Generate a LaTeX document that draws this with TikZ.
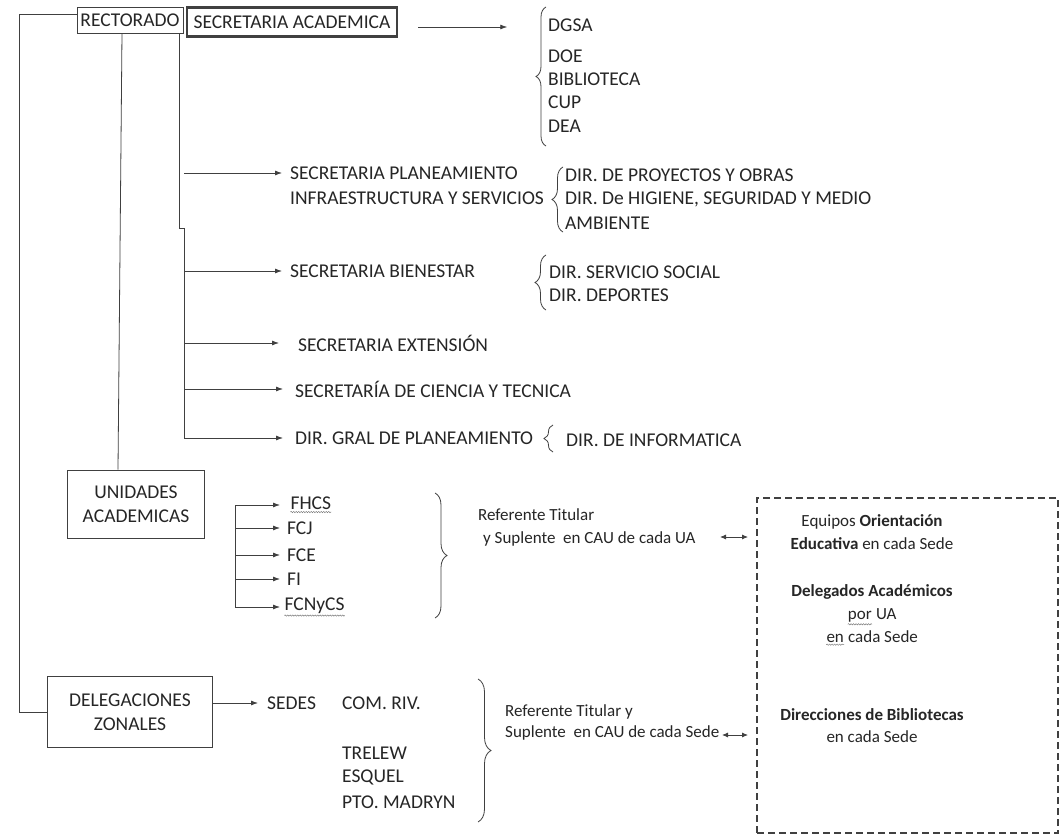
\documentclass[tikz,border=0pt]{standalone}
\usepackage{fontspec}
\setmainfont{Carlito}
\usetikzlibrary{arrows.meta,decorations.pathreplacing,decorations.pathmorphing}
\tikzset{
	linea/.style={line width=0.8pt, color=black!75},
	flecha/.style={linea, -{Latex[length=7pt,width=5pt]}, shorten >=8pt},
	dflecha/.style={linea, {Latex[length=6pt,width=5pt]}-{Latex[length=6pt,width=5pt]}},
	caja/.style={draw=black!75, line width=0.8pt, inner sep=0pt, align=center, text=black!85},
	texto/.style={inner sep=0pt, anchor=west, text=black!85},
	chica/.style={font=\fontsize{17}{23}\selectfont},
	llave/.style={decorate, decoration={brace, amplitude=#1}, line width=0.8pt, color=black!75},
	llave/.default=10pt,
	trazos/.style={draw, line width=1.4pt, color=black!75, dash pattern=on 7pt off 4pt},
	onda/.style={decorate, decoration={snake, amplitude=0.7pt, segment length=2.5pt}, line width=0.4pt, color=black!55},
}
\newcommand{\ondas}[1]{\tikz[baseline=(o.base)]{\node[inner sep=0pt] (o) {#1}; \draw[onda] ([yshift=-2pt]o.south west) -- ([yshift=-2pt]o.south east);}}

\begin{document}
\begin{tikzpicture}[x=1pt, y=-1pt, font=\fontsize{19.5}{24}\selectfont]
		%%%%% START %%%%%
		\useasboundingbox[fill=white] (0,0) rectangle (1061,837);
		
		\node[caja, minimum width=106pt, minimum height=26pt] (rect) at (130,20) {RECTORADO};
		\node[caja, line width=2.5pt, minimum width=210pt, minimum height=29pt] (secac) at (292,22) {SECRETARIA ACADEMICA};
		\node[caja, minimum width=137pt, minimum height=68pt] (unid) at (136,504) {UNIDADES\\ACADEMICAS};
		\node[caja, minimum width=165pt, minimum height=71pt] (deleg) at (130,712) {DELEGACIONES\\ZONALES};
		
		%%%%% SECRETARIA ACADEMICA %%%%%
		\draw[flecha, shorten >=0pt] ([xshift=20pt, yshift=-5pt]secac.east) -- ++(89,0);
		\draw[llave] (546,146) -- (546,7);
		\node[texto] (dgsa) at (548,25) {DGSA};
		\node[texto] (doe) at (548,56) {DOE};
		\node[texto] (biblio) at (548,79) {BIBLIOTECA};
		\node[texto] (cup) at (548,102) {CUP};
		\node[texto] (dea) at (548,126) {DEA};
		
		%%%%% SECRETARIAS %%%%%
		\coordinate (codo) at (184,228);
		\node[texto] (planeam) at (290,173) {SECRETARIA PLANEAMIENTO};
		\node[texto] (infra) at (290,198) {INFRAESTRUCTURA Y SERVICIOS};
		\draw[llave=11pt] (563,232) -- (563,167);
		\node[texto] (proyectos) at (565,175) {DIR. DE PROYECTOS Y OBRAS};
		\node[texto] (higiene) at (565,199) {DIR. De HIGIENE, SEGURIDAD Y MEDIO};
		\node[texto] (ambiente) at (565,223) {AMBIENTE};
		
		\node[texto] (bienestar) at (290,271) {SECRETARIA BIENESTAR};
		\draw[llave=11pt] (546,310) -- (546,255);
		\node[texto] (social) at (549,272) {DIR. SERVICIO SOCIAL};
		\node[texto] (deportes) at (549,295) {DIR. DEPORTES};
		
		\node[texto] (extension) at (298,343) {SECRETARIA EXTENSIÓN};
		\node[texto] (ciencia) at (295,389) {SECRETARÍA DE CIENCIA Y TECNICA};
		\node[texto] (dirgral) at (295,438) {DIR. GRAL DE PLANEAMIENTO};
		\draw[llave=9pt] (553,452) -- (553,425);
		\node[texto] (informatica) at (566,440) {DIR. DE INFORMATICA};
		
		\draw[linea] ([xshift=-4pt]rect.south east) |- (codo) -- (dirgral.west -| codo);
		\draw[flecha] (planeam.west -| codo) -- (planeam.west);
		\draw[flecha] (bienestar.west -| codo) -- (bienestar.west);
		\draw[flecha, shorten >=19pt] (extension.west -| codo) -- (extension.west);
		\draw[flecha, shorten >=12pt] (ciencia.west -| codo) -- (ciencia.west);
		\draw[flecha, shorten >=12pt] (dirgral.west -| codo) -- (dirgral.west);
		
		%%%%% UNIDADES ACADEMICAS %%%%%
		\draw[linea] ([xshift=-8pt]rect.south) -- ([xshift=-18pt]unid.north);
		
		\coordinate (raiz) at (235,0);
		\node[texto] (fhcs) at (290,505) {\ondas{FHCS}};
		\node[texto] (fcj) at (287,528) {FCJ};
		\node[texto] (fce) at (287,555) {FCE};
		\node[texto] (fi) at (287,579) {FI};
		\node[texto] (fcnycs) at (284,607) {\ondas{FCNyCS}};
		\draw[linea] (fhcs.west -| raiz) -- (fcnycs.west -| raiz);
		\draw[flecha, shorten >=10pt] (fhcs.west -| raiz) -- (fhcs.west);
		\draw[flecha, shorten >=7pt] (fcj.west -| raiz) -- (fcj.west);
		\draw[flecha, shorten >=7pt] (fce.west -| raiz) -- (fce.west);
		\draw[flecha, shorten >=7pt] (fi.west -| raiz) -- (fi.west);
		\draw[flecha, shorten >=4pt] (fcnycs.west -| raiz) -- (fcnycs.west);
		
		\draw[llave=12pt] (435,493) -- (435,618);
		\node[texto, chica, align=left] (refua) at (478,527) {Referente Titular\\\hspace*{5pt}y Suplente~ en CAU de cada UA};
		
		%%%%% DELEGACIONES ZONALES %%%%%
		\draw[linea] ([yshift=6pt]rect.west) -- ++(-57,0) |- (deleg.west);
		
		\node[texto] (sedes) at (267,703) {SEDES};
		\node[texto] (comriv) at (342,703) {COM. RIV.};
		\node[texto] (trelew) at (342,753) {TRELEW};
		\node[texto] (esquel) at (342,777) {ESQUEL};
		\node[texto] (madryn) at (342,802) {PTO. MADRYN};
		\draw[flecha, shorten >=9pt] (deleg.east |- sedes.west) -- (sedes.west);
		
		\draw[llave=13pt] (478,679) -- (478,822);
		\node[texto, align=left, font=\fontsize{17}{21}\selectfont] (refsede) at (505,722) {Referente Titular y\\Suplente~ en CAU de cada Sede};
		
		%%%%% CAU %%%%%
		\node[trazos, minimum width=301pt, minimum height=335pt] (cau) at (907.5,665.5) {};
		
		\coordinate (bordeua) at (748,537);
		\coordinate (bordesede) at (748,735);
		\draw[dflecha] (bordeua) -- ++(-28,0);
		\draw[dflecha] (bordesede) -- ++(-26,0);
		
		\node[chica, align=center, text=black!85] (equipos) at (872,532) {Equipos \textbf{Orientación}\\\textbf{Educativa} en cada Sede};
		\node[chica, align=center, text=black!85] (delegados) at (872,615) {\textbf{Delegados Académicos}\\\ondas{por} UA\\\ondas{en} cada Sede};
		\node[chica, align=center, font=\fontsize{17}{22}\selectfont, text=black!85] (direcciones) at (872,726) {\textbf{Direcciones de Bibliotecas}\\en cada Sede};
		
		%%%%% END %%%%%
\end{tikzpicture}
\end{document}
